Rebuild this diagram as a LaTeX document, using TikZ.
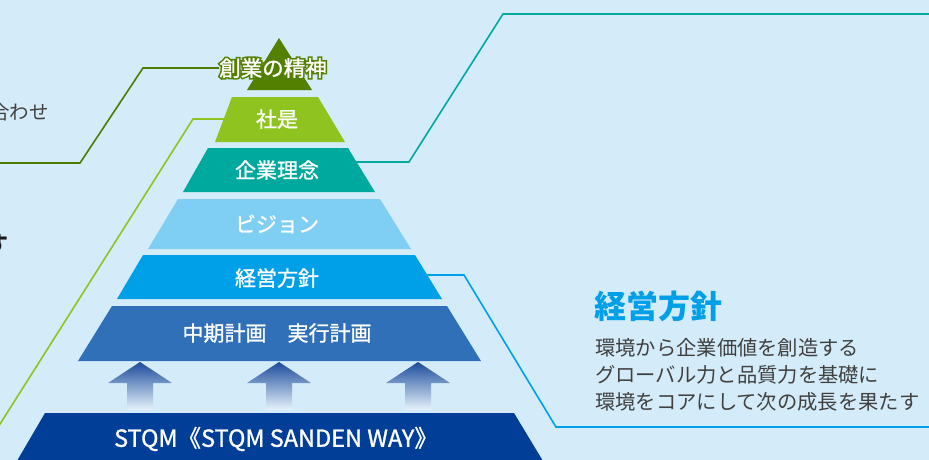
\documentclass[tikz,border=0pt]{standalone}
\usepackage{fontspec}
\setmainfont{Noto Sans CJK JP}
\newfontfamily\lblfont[FakeBold=1.2]{Noto Sans CJK JP}
\newfontfamily\outlfont[FakeBold=16]{Noto Sans CJK JP}
\usetikzlibrary{calc}
\definecolor{bgc}{HTML}{D4ECF9}
\definecolor{cA}{HTML}{548000}
\definecolor{cB}{HTML}{8FC31F}
\definecolor{cC}{HTML}{00A99D}
\definecolor{cD}{HTML}{7FCEF4}
\definecolor{cE}{HTML}{00A0E9}
\definecolor{cF}{HTML}{3070B8}
\definecolor{cG}{HTML}{003E98}
\definecolor{txtgray}{HTML}{404040}
\definecolor{arrtop}{HTML}{1D4C9C}
\definecolor{arrmid}{HTML}{6C99D0}
\definecolor{arrbot}{HTML}{E6F3FB}
\pgfdeclarelayer{backlayer}
\pgfdeclarelayer{linelayer}
\pgfsetlayers{backlayer,linelayer,main}
\begin{document}
\begin{tikzpicture}[x=1pt,y=-1pt,
  lbl/.style={text=white, font=\lblfont\fontsize{21}{24}\selectfont, inner sep=0pt},
  link/.style={line width=1.6pt, line join=miter},
  sidetext/.style={anchor=west, text=txtgray, font=\fontsize{20.3}{24}\selectfont, inner sep=0pt}]
\useasboundingbox (0,0) rectangle (929,460);
\clip (0,0) rectangle (929,460);
\begin{pgfonlayer}{backlayer}
\fill[bgc] (-5,-5) rectangle (935,465);
\end{pgfonlayer}
% pyramid layers
\fill[cA] (279,38) -- (312,90) -- (247,90) -- cycle;
\fill[cB] (232,97) -- (318,97) -- (345,142) -- (215,142) -- cycle;
\fill[cC] (208,148) -- (348,148) -- (375,192) -- (183,192) -- cycle;
\fill[cD] (178,199) -- (380,199) -- (411,249) -- (148,249) -- cycle;
\fill[cE] (143,255) -- (415,255) -- (442,299) -- (117,299) -- cycle;
\fill[cF] (112,306) -- (447,306) -- (481,361) -- (78,361) -- cycle;
\fill[cG] (45,413) -- (514,413) -- (546,466) -- (14,466) -- cycle;
% arrows
\foreach \ax in {140,279,418}{
  \shade[top color=arrtop, middle color=arrmid, bottom color=arrbot]
    (\ax,362) -- (\ax+32,383) -- (\ax+13,383) -- (\ax+13,410) -- (\ax-13,410) -- (\ax-13,383) -- (\ax-32,383) -- cycle;
}
% outlined top label
\node[inner sep=0pt, text=cA, font=\outlfont\fontsize{21.5}{24}\selectfont] (n1o) at (273,68) {創業の精神};
\node[lbl, font=\lblfont\fontsize{21.5}{24}\selectfont] (n1) at (273,68) {創業の精神};
\node[lbl] (n2) at (277,119) {社是};
\node[lbl] (n3) at (277,170) {企業理念};
\node[lbl] (n4) at (277,224) {ビジョン};
\node[lbl] (n5) at (277,278) {経営方針};
\node[lbl] (n6) at (277,333) {中期計画　実行計画};
\node[lbl, font=\lblfont\fontsize{23.5}{26}\selectfont] (n7) at (276,439) {STQM《STQM SANDEN WAY》};
% right side text
\node[anchor=west, text=cE, font=\bfseries\fontsize{32}{36}\selectfont, inner sep=0pt] (h1) at (594,306) {経営方針};
\node[sidetext] (b1) at (595,348) {環境から企業価値を創造する};
\node[sidetext] (b2) at (595,375) {グローバル力と品質力を基礎に};
\node[sidetext] (b3) at (595,402) {環境をコアにして次の成長を果たす};
% left cut-off texts
\node[anchor=east, text=txtgray, font=\fontsize{19.5}{22}\selectfont, inner sep=0pt] (l1) at (49,112) {合わせ};
\node[anchor=east, text=black!90, font=\bfseries\fontsize{22}{26}\selectfont, inner sep=0pt] (l2) at (8.6,244) {す};
% connector coordinates
\coordinate (o1) at (143,69);
\coordinate (o2) at (80,163);
\coordinate (o3) at (-5,163);
\coordinate (s1) at (193,118);
\coordinate (s2) at (-5,432);
\coordinate (t1) at (409,162);
\coordinate (t2) at (503,14);
\coordinate (t3) at (935,14);
\coordinate (u1) at (464,275);
\coordinate (u2) at (556,427);
\coordinate (u3) at (935,427);
\begin{pgfonlayer}{linelayer}
\draw[link, draw=cA!95!black] (n1.west) -- (n1.west -| o1) -- (o2) -- (o3);
\draw[link, draw=cB] (n2.west) -- (n2.west -| s1) -- (s2);
\draw[link, draw=cC] (n3.east |- t1) -- (t1) -- (t2) -- (t3);
\draw[link, draw=cE] (n5.east |- u1) -- (u1) -- (u2) -- (u3);
\end{pgfonlayer}
\end{tikzpicture}
\end{document}
